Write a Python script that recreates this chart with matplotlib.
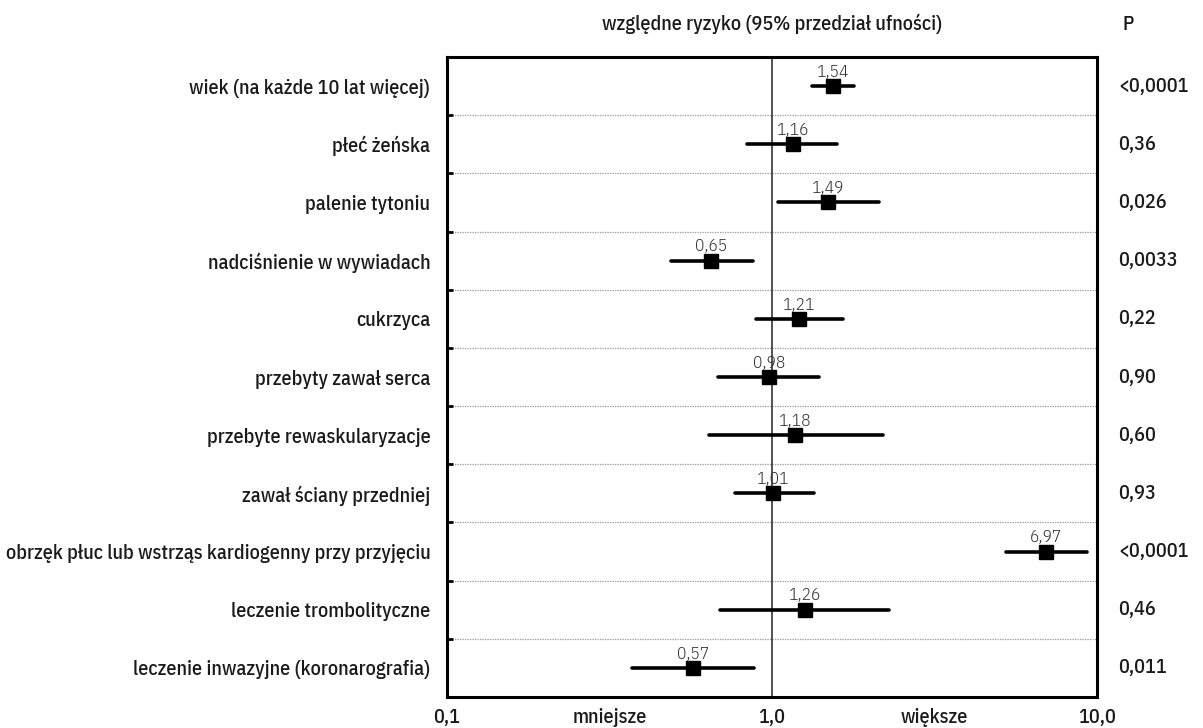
import matplotlib
matplotlib.use("Agg")
import matplotlib.pyplot as plt
import numpy as np

labels = [
    "wiek (na każde 10 lat więcej)",
    "płeć żeńska",
    "palenie tytoniu",
    "nadciśnienie w wywiadach",
    "cukrzyca",
    "przebyty zawał serca",
    "przebyte rewaskularyzacje",
    "zawał ściany przedniej",
    "obrzęk płuc lub wstrząs kardiogenny przy przyjęciu",
    "leczenie trombolityczne",
    "leczenie inwazyjne (koronarografia)",
]
rr = [1.54, 1.16, 1.49, 0.65, 1.21, 0.98, 1.18, 1.01, 6.97, 1.26, 0.57]
rr_text = ["1,54", "1,16", "1,49", "0,65", "1,21", "0,98", "1,18", "1,01", "6,97", "1,26", "0,57"]
ci_low = [1.33, 0.84, 1.04, 0.49, 0.89, 0.68, 0.64, 0.77, 5.24, 0.69, 0.37]
ci_high = [1.79, 1.59, 2.13, 0.875, 1.65, 1.40, 2.20, 1.35, 9.33, 2.29, 0.88]
p_values = ["<0,0001", "0,36", "0,026", "0,0033", "0,22", "0,90", "0,60", "0,93", "<0,0001", "0,46", "0,011"]
xtick_vals = [0.1, 0.316, 1.0, 3.16, 10.0]
xtick_labels = ["0,1", "mniejsze", "1,0", "większe", "10,0"]

FAM = ["IBM Plex Sans Condensed", "DejaVu Sans"]
plt.rcParams['font.family'] = FAM
FS = 14.5
TXT = '#1a1a1a'
W = 500

fig = plt.figure(figsize=(12.03, 7.28), dpi=100)
ax = fig.add_axes([447/1203, 1-697/728, 650/1203, 640/728])
ax.set_xscale('log')
ax.set_xlim(0.1, 10)
n = len(labels)
ax.set_ylim(n + 0.5, 0.5)
ys = np.arange(1, n + 1)

for k in range(1, n):
    ax.axhline(k + 0.5, color='#999999', lw=0.9, ls=(0, (1, 1)), zorder=1)
ax.axvline(1.0, color='#444444', lw=1.3, zorder=2)

for y, r, lo, hi, t in zip(ys, rr, ci_low, ci_high, rr_text):
    ax.plot([lo, hi], [y, y], color='black', lw=2.6, solid_capstyle='round', zorder=3)
    ax.plot([r], [y], marker='s', ms=9.5, color='black', zorder=4)
    ax.annotate(t, (r, y), xytext=(0, 4.5), textcoords='offset points',
                ha='center', va='bottom', fontsize=12.5, color='#333333', weight=300)

for sp in ax.spines.values():
    sp.set_linewidth(2.2)
    sp.set_color('black')

ax.set_yticks(ys)
ax.set_yticklabels(labels, fontsize=FS, color=TXT, weight=W)
ax.tick_params(axis='y', length=0, pad=12)
ax.set_yticks(np.arange(1, n) + 0.5, minor=True)
ax.tick_params(axis='y', which='minor', direction='in', length=4, width=2)

ax.set_xticks(xtick_vals)
ax.set_xticklabels(xtick_labels, fontsize=FS, color=TXT, weight=W)
ax.xaxis.set_minor_locator(matplotlib.ticker.NullLocator())
ax.tick_params(axis='x', length=0, pad=8)

for y, p in zip(ys, p_values):
    ax.text(1.032, y, p, transform=ax.get_yaxis_transform(), ha='left', va='center',
            fontsize=FS, color=TXT, weight=W)

fig.text(772/1203, 1-24/728, "względne ryzyko (95% przedział ufności)", ha='center', va='center',
         fontsize=FS, color=TXT, weight=W)
fig.text(1122/1203, 1-24/728, "P", ha='left', va='center', fontsize=FS, color=TXT, weight=W)

fig.savefig("out.png", dpi=100)
